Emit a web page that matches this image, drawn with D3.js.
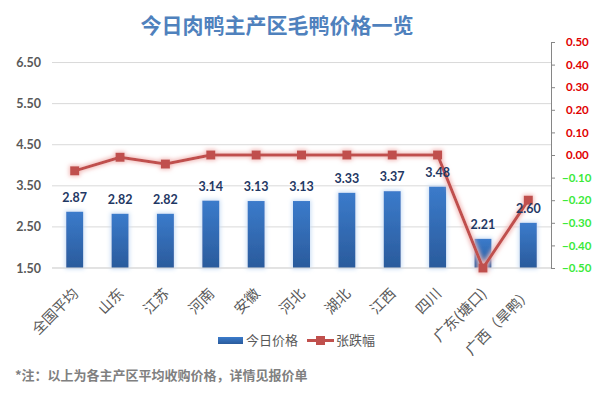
<!DOCTYPE html>
<html>
<head>
<meta charset="utf-8">
<script src="https://cdn.jsdelivr.net/npm/d3@7"></script>
<style>
  body { margin: 0; background: #fff; }
  text { font-family: "Noto Sans CJK SC", sans-serif; }
  .num { font-family: Lato, "Noto Sans", sans-serif; font-weight: bold; }
</style>
</head>
<body>
<div id="main"></div>
<script>
// data
var categories = ["全国平均", "山东", "江苏", "河南", "安徽", "河北", "湖北", "江西", "四川", "广东(塘口)", "广西（旱鸭）"];
var prices = [2.87, 2.82, 2.82, 3.14, 3.13, 3.13, 3.33, 3.37, 3.48, 2.21, 2.60];
var changes = [-0.07, -0.01, -0.04, 0.00, 0.00, 0.00, 0.00, 0.00, 0.00, -0.50, -0.20];
var leftTicks = [1.5, 2.5, 3.5, 4.5, 5.5, 6.5];
var rightTicks = [0.5, 0.4, 0.3, 0.2, 0.1, 0, -0.1, -0.2, -0.3, -0.4, -0.5];

var W = 592, H = 394;
var margin = { top: 42, left: 52, right: 41, bottom: 126 };
var w = W - margin.left - margin.right,
	h = H - margin.top - margin.bottom;

var svg = d3.select("#main")
	.append("svg")
	.attr("width", W)
	.attr("height", H);

// glow filters
var defs = svg.append("defs");
function glow(id, color, sd) {
	var f = defs.append("filter").attr("id", id)
		.attr("x", "-50%").attr("y", "-50%").attr("width", "200%").attr("height", "200%");
	f.append("feMorphology").attr("in", "SourceAlpha").attr("operator", "dilate").attr("radius", 1).attr("result", "d");
	f.append("feGaussianBlur").attr("in", "d").attr("stdDeviation", sd).attr("result", "b");
	f.append("feFlood").attr("flood-color", color);
	f.append("feComposite").attr("in2", "b").attr("operator", "in").attr("result", "g");
	var m = f.append("feMerge");
	m.append("feMergeNode").attr("in", "g");
	m.append("feMergeNode").attr("in", "SourceGraphic");
}
glow("glowBlue", "#c6dcf5", 2);
glow("glowRed", "#f2b8b6", 2);

var grad = defs.append("linearGradient").attr("id", "barGrad")
	.attr("x1", 0).attr("y1", 0).attr("x2", 0).attr("y2", 1);
grad.append("stop").attr("offset", "0%").attr("stop-color", "#3b7bcb");
grad.append("stop").attr("offset", "100%").attr("stop-color", "#2a5b9c");

// title
svg.append("text")
	.attr("x", 277).attr("y", 33)
	.attr("text-anchor", "middle")
	.style("font-size", "21px").style("font-weight", "bold")
	.style("fill", "#4f81bd")
	.text("今日肉鸭主产区毛鸭价格一览");

var g = svg.append("g").attr("transform", "translate(" + margin.left + "," + margin.top + ")");

var x = d3.scaleBand().domain(categories).range([0, w]);
var y = d3.scaleLinear().domain([1.5, 7.0]).range([h, 0]);
var y2 = d3.scaleLinear().domain([-0.5, 0.5]).range([h, 0]);

// gridlines
g.selectAll(".grid")
	.data(leftTicks)
	.enter()
	.append("line")
	.attr("x1", 0).attr("x2", w)
	.attr("y1", function(d) { return y(d); })
	.attr("y2", function(d) { return y(d); })
	.attr("stroke", "#d9d9d9").attr("stroke-width", 1);

// left axis
var yAxis = g.append("g")
	.call(d3.axisLeft(y).tickValues(leftTicks).tickFormat(d3.format(".2f")).tickSize(0).tickPadding(11));
yAxis.select(".domain").remove();
yAxis.selectAll("text").attr("class", "num").style("font-size", "12.5px").style("fill", "#595959");

// right axis
var yAxis2 = g.append("g")
	.attr("transform", "translate(" + w + ",0)")
	.call(d3.axisRight(y2).tickValues(rightTicks).tickFormat(d3.format(".2f")).tickSizeOuter(0).tickSizeInner(4).tickPadding(8));
yAxis2.select(".domain").attr("stroke", "#868686");
yAxis2.selectAll(".tick line").attr("stroke", "#868686");
yAxis2.selectAll("text")
	.attr("class", "num")
	.attr("text-anchor", "start")
	.attr("x", function(d) { return d < 0 ? 11 : 15; })
	.style("font-size", "11.5px")
	.style("fill", function(d) { return d < 0 ? "#3bea3b" : "#e00000"; });

// bars
var barW = 17;
g.selectAll(".bar")
	.data(prices)
	.enter()
	.append("rect")
	.attr("class", "bar")
	.attr("x", function(d, i) { return x(categories[i]) + x.bandwidth() / 2 - barW / 2; })
	.attr("y", function(d) { return y(d); })
	.attr("width", barW)
	.attr("height", function(d) { return h - y(d); })
	.attr("fill", "url(#barGrad)")
	.attr("filter", "url(#glowBlue)");

// baseline
g.append("line").attr("x1", 0).attr("x2", w).attr("y1", h).attr("y2", h)
	.attr("stroke", "#d9d9d9");

// line
var line = d3.line()
	.x(function(d, i) { return x(categories[i]) + x.bandwidth() / 2; })
	.y(function(d) { return y2(d); });

var lg = g.append("g").attr("filter", "url(#glowRed)");
lg.append("path")
	.datum(changes)
	.attr("d", line)
	.attr("fill", "none")
	.attr("stroke", "#c0504d")
	.attr("stroke-width", 3);
lg.selectAll(".mk")
	.data(changes)
	.enter()
	.append("rect")
	.attr("x", function(d, i) { return x(categories[i]) + x.bandwidth() / 2 - 4.5; })
	.attr("y", function(d) { return y2(d) - 4.5; })
	.attr("width", 9).attr("height", 9)
	.attr("fill", "#c0504d");

// value labels
g.selectAll(".lbl")
	.data(prices)
	.enter()
	.append("text")
	.attr("class", "num")
	.attr("x", function(d, i) { return x(categories[i]) + x.bandwidth() / 2; })
	.attr("y", function(d) { return y(d) - 10; })
	.attr("text-anchor", "middle")
	.style("font-size", "12.5px")
	.style("fill", "#1f3864")
	.text(function(d) { return d.toFixed(2); });

// category labels
g.selectAll(".cat")
	.data(categories)
	.enter()
	.append("text")
	.attr("transform", function(d) {
		return "translate(" + (x(d) + x.bandwidth() / 2 + 1) + "," + (h + 23) + ") rotate(-45)";
	})
	.attr("text-anchor", "end")
	.attr("dy", "0.35em")
	.style("font-size", "14.5px")
	.style("fill", "#595959")
	.text(function(d) { return d; });

// legend
var leg = svg.append("g");
leg.append("rect").attr("x", 218).attr("y", 337).attr("width", 25).attr("height", 7)
	.attr("fill", "url(#barGrad)");
leg.append("text").attr("x", 246).attr("y", 345).style("font-size", "13px").style("fill", "#595959").text("今日价格");
leg.append("line").attr("x1", 307).attr("x2", 334).attr("y1", 340.5).attr("y2", 340.5)
	.attr("stroke", "#c0504d").attr("stroke-width", 3);
leg.append("rect").attr("x", 316).attr("y", 336).attr("width", 9).attr("height", 9).attr("fill", "#c0504d");
leg.append("text").attr("x", 336).attr("y", 345).style("font-size", "13px").style("fill", "#595959").text("张跌幅");

// footnote
svg.append("text")
	.attr("x", 15).attr("y", 380)
	.style("font-size", "13px").style("font-weight", "bold")
	.style("fill", "#808080")
	.text("*注：以上为各主产区平均收购价格，详情见报价单");
</script>
</body>
</html>
